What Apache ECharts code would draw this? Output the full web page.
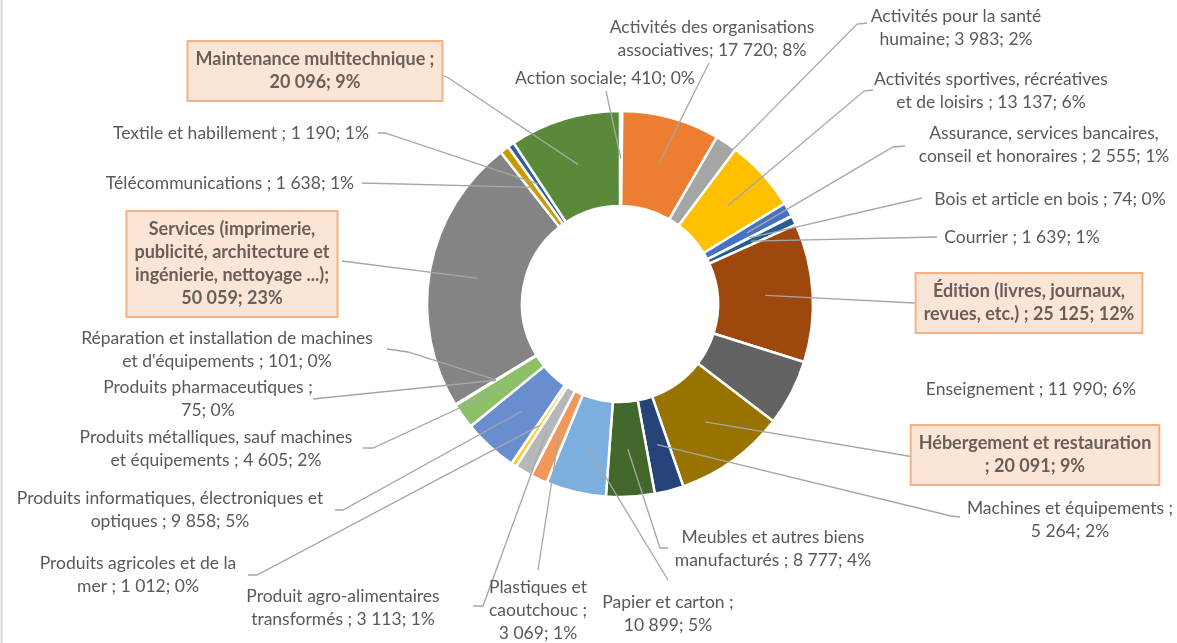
<!DOCTYPE html>
<html><head><meta charset="utf-8">
<script src="https://cdn.jsdelivr.net/npm/echarts@6/dist/echarts.min.js"></script>
<style>html,body{margin:0;padding:0;background:#fff}#c{width:1177px;height:643px}</style>
</head><body><div id="c"></div>
<script>
// ---- DATA ----
const categories = [
  "Action sociale",
  "Activités des organisations associatives",
  "Activités pour la santé humaine",
  "Activités sportives, récréatives et de loisirs",
  "Assurance, services bancaires, conseil et honoraires",
  "Bois et article en bois",
  "Courrier",
  "Édition (livres, journaux, revues, etc.)",
  "Enseignement",
  "Hébergement et restauration",
  "Machines et équipements",
  "Meubles et autres biens manufacturés",
  "Papier et carton",
  "Plastiques et caoutchouc",
  "Produit agro-alimentaires transformés",
  "Produits agricoles et de la mer",
  "Produits informatiques, électroniques et optiques",
  "Produits métalliques, sauf machines et équipements",
  "Produits pharmaceutiques",
  "Réparation et installation de machines et d'équipements",
  "Services (imprimerie, publicité, architecture et ingénierie, nettoyage ...)",
  "Télécommunications",
  "Textile et habillement",
  "Maintenance multitechnique"
];
const values = [410, 17720, 3983, 13137, 2555, 74, 1639, 25125, 11990, 20091, 5264, 8777,
  10899, 3069, 3113, 1012, 9858, 4605, 75, 101, 50059, 1638, 1190, 20096];
const labelTemplates = [
  "Action sociale; {v}; {p}",
  "Activités des organisations\nassociatives; {v}; {p}",
  "Activités pour la santé\nhumaine; {v}; {p}",
  "Activités sportives, récréatives\net de loisirs ; {v}; {p}",
  "Assurance, services bancaires,\nconseil et honoraires ; {v}; {p}",
  "Bois et article en bois ; {v}; {p}",
  "Courrier ; {v}; {p}",
  "Édition (livres, journaux,\nrevues, etc.) ; {v}; {p}",
  "Enseignement ; {v}; {p}",
  "Hébergement et restauration\n; {v}; {p}",
  "Machines et équipements ;\n{v}; {p}",
  "Meubles et autres biens\nmanufacturés ; {v}; {p}",
  "Papier et carton ;\n{v}; {p}",
  "Plastiques et\ncaoutchouc ;\n{v}; {p}",
  "Produit agro-alimentaires\ntransformés ; {v}; {p}",
  "Produits agricoles et de la\nmer ; {v}; {p}",
  "Produits informatiques, électroniques et\noptiques ; {v}; {p}",
  "Produits métalliques, sauf machines\net équipements ; {v}; {p}",
  "Produits pharmaceutiques ;\n{v}; {p}",
  "Réparation et installation de machines\net d'équipements ; {v}; {p}",
  "Services (imprimerie,\npublicité, architecture et\ningénierie, nettoyage ...);\n{v}; {p}",
  "Télécommunications ; {v}; {p}",
  "Textile et habillement ; {v}; {p}",
  "Maintenance multitechnique ;\n{v}; {p}"
];
const highlighted = [
  "Édition (livres, journaux, revues, etc.)",
  "Hébergement et restauration",
  "Services (imprimerie, publicité, architecture et ingénierie, nettoyage ...)",
  "Maintenance multitechnique"
];
const noLeader = ["Enseignement"];

// ---- STYLE / LAYOUT ----
const palette = ['#5B9BD5','#ED7D31','#A5A5A5','#FFC000','#4472C4','#70AD47','#255E91','#9E480E',
  '#636363','#997300','#264478','#43682B','#7CAFDD','#F1975A','#B7B7B7','#FFCD33','#698ED0',
  '#8CC168','#327DC2','#D26012','#848484','#CC9A00','#335AA1','#5A8A39'];
const CX = 620, CY = 304, R0 = 98, R1 = 193;
// label block centres
const labelCenters = [
  [605,78],[712,39],[956,28],[991,91],[1044,145],[1050,199],[1022,237],[1029,303],
  [1031,389],[1035,455],[1070,520],[773,549],[668,614],[538,610],[343,608],[138,575],
  [170,510],[216,449],[208,399],[227,350],[232,264],[230,183],[241,133],[315,71]
];
// leader line end at label [ax, ay] and optional stub bend [sx, sy]
const labelAnchors = [
  [606,91,null,null],[709,63,null,null],[867,23,857,24],[873,90,864,91],[905,146,893,147],
  [922,198,null,null],[937,237,null,null],[915,303,null,null],[0,0,null,null],[914,457,null,null],
  [960,517,951,516],[668,548,660,548],[668,580,null,null],[538,570,null,null],[473,606,483,606],
  [248,575,257,575],[335,510,343,510],[363,448,373,448],[313,399,null,null],[387,349,408,352],
  [342,261,null,null],[362,183,null,null],[378,133,385,133],[440,75,447,77]
];

const total = values.reduce((a, b) => a + b, 0);
const fmt = v => String(v).replace(/\B(?=(\d{3})+(?!\d))/g, ' ');
function midPoint(i) {
  let before = 0;
  for (let k = 0; k < i; k++) before += values[k];
  const f = (before + values[i] / 2) / total;
  const a = (90 - f * 360) * Math.PI / 180;
  const r = (R0 + R1) / 2;
  return [CX + r * Math.cos(a), CY - r * Math.sin(a)];
}

// colored ring (no labels)
const ringData = categories.map((name, i) => ({ name, value: values[i], itemStyle: { color: palette[i] } }));
// transparent overlay carrying labels + leader lines drawn above the ring
const labelData = categories.map((name, i) => {
  const item = {
    name, value: values[i],
    labelLine: { show: !noLeader.includes(name) }
  };
  if (highlighted.includes(name)) {
    item.label = {
      fontWeight: 'bold', fontSize: 18, color: '#6a5f58', backgroundColor: '#FBE5D6',
      borderColor: '#F4B183', borderWidth: 2, padding: [7, 7, 5, 7]
    };
  }
  return item;
});

const chart = echarts.init(document.getElementById('c'), null, { renderer: 'canvas' });
chart.setOption({
  backgroundColor: '#ffffff',
  animation: false,
  graphic: [{ type: 'line', shape: { x1: 1.5, y1: 0, x2: 1.5, y2: 643 }, style: { stroke: '#d9d9d9', lineWidth: 2 } }],
  series: [{
    type: 'pie',
    z: 2,
    center: [CX, CY],
    radius: [R0, R1],
    startAngle: 90,
    clockwise: true,
    data: ringData,
    itemStyle: { borderColor: '#ffffff', borderWidth: 2.5 },
    label: { show: false },
    labelLine: { show: false },
    emphasis: { disabled: true }
  }, {
    type: 'pie',
    z: 5,
    center: [CX, CY],
    radius: [R0, R1],
    startAngle: 90,
    clockwise: true,
    avoidLabelOverlap: false,
    data: labelData,
    itemStyle: { color: 'rgba(0,0,0,0)', borderWidth: 0 },
    label: {
      show: true, position: 'outside',
      fontFamily: 'Lato', fontSize: 17.5, lineHeight: 23, color: '#595959',
      formatter: p => labelTemplates[p.dataIndex]
        .replace('{v}', fmt(p.value))
        .replace('{p}', Math.round(p.value / total * 100) + '%')
    },
    labelLine: { show: true, showAbove: true, lineStyle: { color: '#A6A6A6', width: 1.3 }, length: 10, length2: 10 },
    emphasis: { disabled: true },
    labelLayout: function (params) {
      const i = params.dataIndex;
      const c = labelCenters[i];
      const an = labelAnchors[i];
      const m = midPoint(i);
      const pts = an[2] == null ? [m, [an[0], an[1]], [an[0], an[1]]] : [m, [an[2], an[3]], [an[0], an[1]]];
      return { x: c[0], y: c[1], align: 'center', verticalAlign: 'middle', labelLinePoints: pts, hideOverlap: false, moveOverlap: null };
    }
  }]
});
</script></body></html>
